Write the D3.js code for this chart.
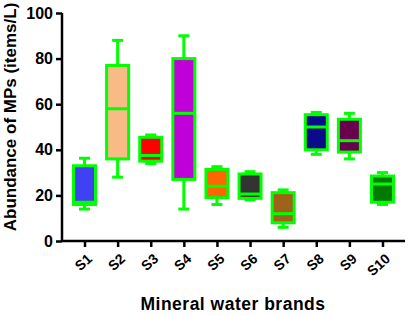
<!DOCTYPE html>
<html><head><meta charset="utf-8">
<script src="https://cdn.jsdelivr.net/npm/d3@7"></script>
<style>body{margin:0;background:#fff}svg{display:block}text{font-family:"Liberation Sans",Arial,sans-serif;font-weight:bold}</style>
</head><body><svg width="408" height="316"></svg>
<script>
const categories = ["S1","S2","S3","S4","S5","S6","S7","S8","S9","S10"];
const mins    = [14, 28, 34, 14, 16, 18, 6, 38, 36, 16];
const q1s     = [16, 36, 35, 27, 19, 18.7, 8, 40, 39, 17];
const medians = [17, 58, 37.5, 56, 24, 20.6, 12, 50, 44, 25];
const q3s     = [33, 77, 45.5, 80, 31.4, 29.4, 21.2, 55.4, 53.4, 28.5];
const maxs    = [36.3, 88, 46.5, 90, 32.6, 30.4, 22.4, 56.4, 56, 30];
const fills   = ["#4040f4","#f9bb85","#ff0000","#c000d8","#ff6600","#333333","#a0621a","#0a0a8a","#6a004e","#007a00"];
const yTicks  = [0,20,40,60,80,100];

const svg = d3.select("svg");
const x = d3.scalePoint().domain(categories).range([62,405]).padding(0.68);
const y = d3.scaleLinear().domain([0,100]).range([241,13]);
const green = "#00ff00";
const bw = 22, cw = 11;

const data = categories.map((c,i)=>({c,min:mins[i],q1:q1s[i],med:medians[i],q3:q3s[i],max:maxs[i],fill:fills[i]}));
const g = svg.append("g");
data.forEach(d=>{
  const cx = x(d.c);
  g.append("line").attr("x1",cx).attr("x2",cx).attr("y1",y(d.max)).attr("y2",y(d.q3)).attr("stroke",green).attr("stroke-width",3);
  g.append("line").attr("x1",cx).attr("x2",cx).attr("y1",y(d.q1)).attr("y2",y(d.min)).attr("stroke",green).attr("stroke-width",3);
  g.append("line").attr("x1",cx-cw/2).attr("x2",cx+cw/2).attr("y1",y(d.max)).attr("y2",y(d.max)).attr("stroke",green).attr("stroke-width",3);
  g.append("line").attr("x1",cx-cw/2).attr("x2",cx+cw/2).attr("y1",y(d.min)).attr("y2",y(d.min)).attr("stroke",green).attr("stroke-width",3);
  g.append("rect").attr("x",cx-bw/2).attr("width",bw).attr("y",y(d.q3)).attr("height",y(d.q1)-y(d.q3))
    .attr("fill",d.fill).attr("stroke",green).attr("stroke-width",3);
  g.append("line").attr("x1",cx-bw/2).attr("x2",cx+bw/2).attr("y1",y(d.med)).attr("y2",y(d.med)).attr("stroke",green).attr("stroke-width",3);
});

// y axis
const ya = svg.append("g").attr("transform","translate(62,0)")
  .call(d3.axisLeft(y).tickValues(yTicks).tickSize(6).tickPadding(3));
ya.select(".domain").attr("stroke","#000").attr("stroke-width",2.5).attr("d","M0,13V241");
ya.selectAll(".tick line").attr("stroke","#000").attr("stroke-width",2.5);
ya.selectAll(".tick text").attr("fill","#000").style("font-size","16px");

// x axis
const xa = svg.append("g").attr("transform","translate(0,241)")
  .call(d3.axisBottom(x).tickSize(6).tickSizeOuter(0));
xa.select(".domain").attr("stroke","#000").attr("stroke-width",2.5).attr("d","M62,0H405");
xa.selectAll(".tick line").attr("stroke","#000").attr("stroke-width",2.5);
xa.selectAll(".tick text").attr("fill","#000").style("font-size","14px")
  .attr("text-anchor","end").attr("dy",null).attr("y",null)
  .attr("transform","translate(8,19) rotate(-42)");

svg.append("text").attr("x",233).attr("y",310).attr("text-anchor","middle").style("font-size","17.5px").style("letter-spacing","0.5px").text("Mineral water brands");
svg.append("text").attr("transform","translate(15.5,117) rotate(-90)").attr("text-anchor","middle").style("font-size","17px").text("Abundance of MPs (items/L)");
</script></body></html>
